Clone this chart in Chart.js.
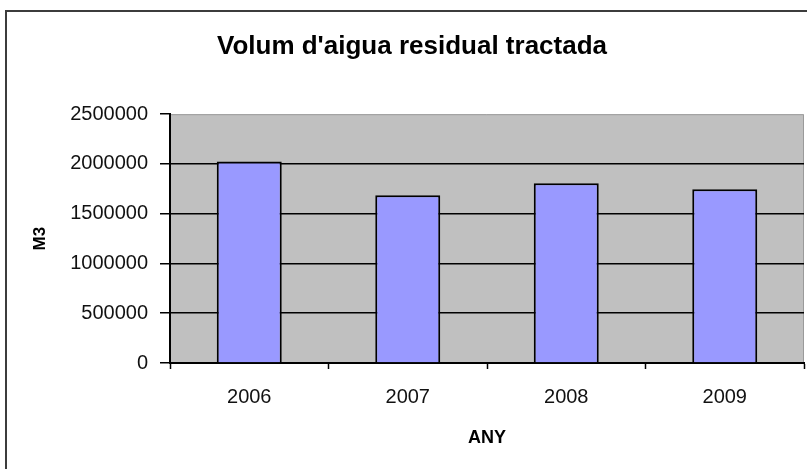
<!DOCTYPE html>
<html>
<head>
<meta charset="utf-8">
<script src="https://cdn.jsdelivr.net/npm/chart.js@4.4.1/dist/chart.umd.min.js"></script>
<style>
  html, body { margin: 0; padding: 0; background: #fff; }
  #wrap { position: relative; width: 807px; height: 469px; overflow: hidden; }
  #frame { position: absolute; left: 5px; top: 10px; width: 900px; height: 600px;
           border-left: 2px solid #3c3c3c; border-top: 2px solid #3c3c3c; }
  #budgetChart { position: absolute; left: 0; top: 0; }
</style>
</head>
<body>
<div id="wrap">
  <div id="frame"></div>
  <canvas id="budgetChart" width="807" height="469"></canvas>
</div>
<script>
// data
const years = ['2006', '2007', '2008', '2009'];
const volumes = [2025000, 1685000, 1805000, 1745000];
const yTicks = [0, 500000, 1000000, 1500000, 2000000, 2500000];

const fontFamily = '"Liberation Sans", Arial, sans-serif';

// grey plot background, drawn behind the bars
const plotBg = {
    id: 'plotBg',
    beforeDraw(chart) {
        const {ctx, chartArea: a} = chart;
        ctx.save();
        ctx.fillStyle = '#c0c0c0';
        ctx.fillRect(a.left, a.top, a.right - a.left, a.bottom - a.top);
        ctx.strokeStyle = '#9a9a9a';
        ctx.lineWidth = 1;
        ctx.beginPath();
        ctx.moveTo(a.left, a.top + 0.5);
        ctx.lineTo(a.right - 0.5, a.top + 0.5);
        ctx.lineTo(a.right - 0.5, a.bottom);
        ctx.stroke();
        ctx.restore();
    }
};

const ctx = document.getElementById('budgetChart').getContext('2d');
const chart = new Chart(ctx, {
    type: 'bar',
    data: {
        labels: years,
        datasets: [{
            label: 'M3',
            data: volumes,
            backgroundColor: '#9999ff',
            borderColor: '#000',
            borderWidth: 2,
            barPercentage: 0.41,
            categoryPercentage: 1
        }]
    },
    options: {
        responsive: false,
        animation: false,
        layout: { padding: { left: 20, right: 3, top: 0, bottom: 0 } },
        plugins: {
            legend: { display: false },
            tooltip: { enabled: false },
            title: {
                display: true,
                text: "Volum d'aigua residual tractada",
                color: '#000',
                font: { family: fontFamily, size: 26, weight: 'bold', lineHeight: 1.2 },
                padding: { top: 31, bottom: 52 }
            }
        },
        scales: {
            x: {
                grid: {
                    display: true,
                    drawOnChartArea: false,
                    drawTicks: true,
                    tickLength: 6,
                    tickColor: '#000',
                    tickWidth: 1.5,
                    offset: true
                },
                border: { color: '#000', width: 2 },
                ticks: {
                    color: '#111',
                    padding: 16,
                    font: { family: fontFamily, size: 20 }
                },
                title: {
                    display: true,
                    text: 'ANY',
                    color: '#000',
                    font: { family: fontFamily, size: 18, weight: 'bold', lineHeight: 1.2 },
                    padding: { top: 0, bottom: 20 }
                },
                afterFit(scale) { scale.height = 106; }
            },
            y: {
                min: 0,
                max: 2500000,
                afterBuildTicks(scale) {
                    scale.ticks = yTicks.map(v => ({value: v}));
                },
                grid: {
                    color: (c) => c.tick && c.tick.value === 2500000 ? 'rgba(0,0,0,0)' : '#000',
                    lineWidth: 1.5,
                    tickLength: 10,
                    tickColor: '#000',
                    tickWidth: 1.5
                },
                border: { color: '#000', width: 2 },
                ticks: {
                    color: '#111',
                    padding: 12,
                    font: { family: fontFamily, size: 20 },
                    callback: (v) => String(v)
                },
                title: {
                    display: true,
                    text: 'M3',
                    color: '#000',
                    font: { family: fontFamily, size: 17, weight: 'bold', lineHeight: 1.2 },
                    padding: { top: 10, bottom: 0 }
                },
                afterFit(scale) { scale.width = 150; }
            }
        }
    },
    plugins: [plotBg]
});
</script>
</body>
</html>
